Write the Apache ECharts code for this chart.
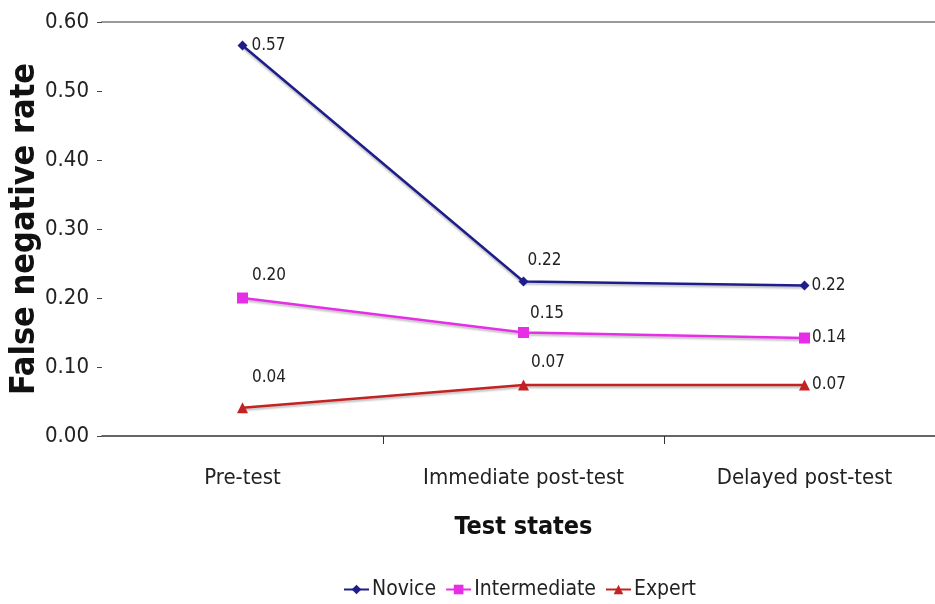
<!DOCTYPE html>
<html>
<head>
<meta charset="utf-8">
<script src="https://cdn.jsdelivr.net/npm/echarts@6/dist/echarts.min.js"></script>
<style>
  html, body { margin: 0; padding: 0; background: #fff; }
  #chart { width: 935px; height: 604px; }
</style>
</head>
<body>
<div id="chart"></div>
<script>
const categories = ['Pre-test', 'Immediate post-test', 'Delayed post-test'];
const novice = [0.566, 0.224, 0.218];
const intermediate = [0.200, 0.150, 0.142];
const expert = [0.041, 0.074, 0.074];
const yTicks = [0, 0.1, 0.2, 0.3, 0.4, 0.5, 0.6];

const FONT = "'DejaVu Sans Condensed', 'DejaVu Sans', sans-serif";

// per-point label offsets: some sit above-right of the marker, others right
function pointLabels(values, offsets) {
  return values.map((v, i) => ({
    value: v,
    label: { offset: offsets[i] }
  }));
}

const labelBase = {
  show: true,
  position: 'right',
  distance: 4,
  fontFamily: FONT,
  fontSize: 17,
  color: '#222',
  formatter: p => p.value.toFixed(2)
};

const chart = echarts.init(document.getElementById('chart'), null, { renderer: 'canvas' });

chart.setOption({
  animation: false,
  backgroundColor: '#fff',
  grid: {
    left: 102, top: 22, bottom: 168, width: 843,
    containLabel: false,
    outerBoundsMode: 'none'
  },
  xAxis: [{
    type: 'category',
    data: categories,
    boundaryGap: true,
    name: 'Test states',
    nameLocation: 'middle',
    nameGap: 79,
    nameTextStyle: { fontFamily: FONT, fontWeight: 'bold', fontSize: 25, color: '#111' },
    axisLine: { lineStyle: { color: '#333', width: 1.5 } },
    axisTick: { show: true, length: 8, lineStyle: { color: '#333' }, interval: (i) => i !== 0 },
    axisLabel: { margin: 31, fontFamily: FONT, fontSize: 22, color: '#222' }
  }, {
    type: 'category',
    data: categories,
    position: 'top',
    axisLine: { lineStyle: { color: '#9a9a9a', width: 2 } },
    axisTick: { show: false },
    axisLabel: { show: false }
  }],
  yAxis: {
    type: 'value',
    min: yTicks[0],
    max: yTicks[yTicks.length - 1],
    interval: 0.1,
    name: 'False negative rate',
    nameLocation: 'middle',
    nameGap: 60,
    nameMoveOverlap: false,
    nameTextStyle: { fontFamily: FONT, fontWeight: 'bold', fontSize: 34, color: '#111' },
    axisLine: { show: false },
    axisTick: { show: true, length: 5, lineStyle: { color: '#444' } },
    splitLine: { show: false },
    axisLabel: {
      margin: 13,
      fontFamily: FONT,
      fontSize: 22,
      color: '#222',
      formatter: v => v.toFixed(2)
    }
  },
  legend: {
    top: 574,
    left: 338,
    itemGap: 9,
    itemWidth: 25,
    itemHeight: 12,
    textStyle: { fontFamily: FONT, fontSize: 21, color: '#222', padding: [0, 0, 0, -2] },
    data: ['Novice', 'Intermediate', 'Expert']
  },
  series: [{
    name: 'Novice',
    type: 'line',
    data: pointLabels(novice, [[0, 0], [-5, -21], [-2, 0]]),
    symbol: 'diamond',
    symbolSize: 10,
    color: '#1f1d8a',
    lineStyle: { width: 2.5, shadowColor: 'rgba(0,0,0,0.25)', shadowBlur: 2, shadowOffsetY: 2 },
    label: labelBase
  }, {
    name: 'Intermediate',
    type: 'line',
    data: pointLabels(intermediate, [[0, -22], [-3, -19], [-2, 0]]),
    symbol: 'rect',
    symbolSize: 11,
    color: '#e62ee6',
    lineStyle: { width: 2.5, shadowColor: 'rgba(0,0,0,0.25)', shadowBlur: 2, shadowOffsetY: 2 },
    label: labelBase
  }, {
    name: 'Expert',
    type: 'line',
    data: pointLabels(expert, [[0, -30], [-2, -22], [-2, 0]]),
    symbol: 'triangle',
    symbolSize: 11,
    color: '#c42222',
    lineStyle: { width: 2.5, shadowColor: 'rgba(0,0,0,0.25)', shadowBlur: 2, shadowOffsetY: 2 },
    label: labelBase
  }]
});
</script>
</body>
</html>
